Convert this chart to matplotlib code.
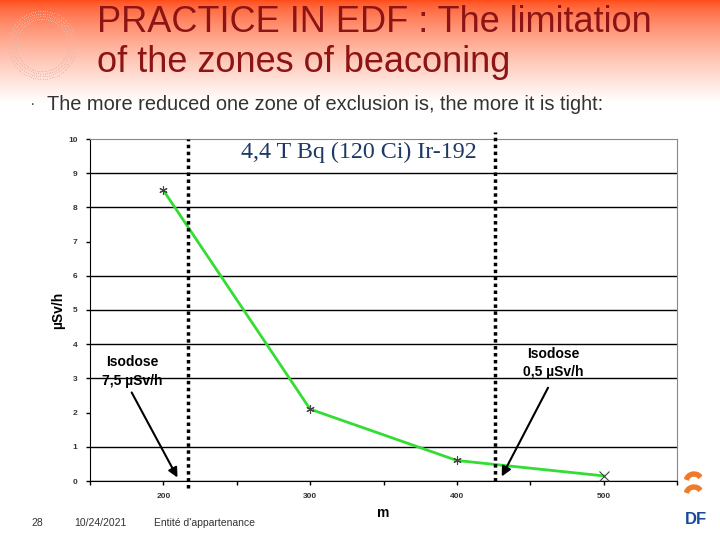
import numpy as np
import matplotlib
matplotlib.use("Agg")
import matplotlib.pyplot as plt
from matplotlib.patches import Wedge

# data
distance = [200, 300, 400, 500]
dose = [8.5, 2.1, 0.6, 0.15]
limit_75 = 217   # m, isodose 7.5 uSv/h
limit_05 = 426   # m, isodose 0.5 uSv/h
grid_levels = [0, 1, 3, 4, 5, 6, 8, 9]

plt.rcParams["font.family"] = ["Liberation Sans", "DejaVu Sans"]

fig = plt.figure(figsize=(7.2, 5.4), dpi=100)

# slide background: red band fading to white at the top
bg = fig.add_axes([0, 0, 1, 1], zorder=-10)
bg.set_axis_off()
h = np.linspace(0, 1, 540)
fade = np.clip(h / 0.19, 0, 1) ** 0.7
img = np.ones((540, 720, 3))
img[:, :, 1] = 0.3 + 0.7 * fade[:, None]
img[:, :, 2] = 0.1 + 0.9 * fade[:, None]
bg.imshow(img, extent=[0, 720, 540, 0], aspect="auto")
bg.set_xlim(0, 720)
bg.set_ylim(540, 0)
# dotted ring decoration
for r in np.linspace(26, 34, 4):
    ang = np.linspace(0, 2 * np.pi, 90)
    bg.scatter(42 + r * np.cos(ang), 45 + r * np.sin(ang), s=0.6, color="#e8b8a8", lw=0)
# logo
bg.add_patch(Wedge((694, 482), 10, 200, 320, width=4, color="#f07a2a"))
bg.add_patch(Wedge((694, 495), 10, 200, 320, width=4, color="#f07a2a"))
bg.text(696, 520, "DF", color="#1a4b9b", fontsize=12, fontweight="bold", ha="center", va="center")

fig.text(97 / 720, 1 - 23 / 540, "PRACTICE IN EDF : The limitation", color="#8c1414",
         fontsize=26, ha="left", va="center")
fig.text(97 / 720, 1 - 63 / 540, "of the zones of beaconing", color="#8c1414",
         fontsize=26, ha="left", va="center")
fig.text(30 / 720, 1 - 104 / 540, "\u00b7", color="#555555", fontsize=12, ha="left", va="center")
fig.text(47 / 720, 1 - 104 / 540, "The more reduced one zone of exclusion is, the more it is tight:",
         color="#333333", fontsize=14.4, ha="left", va="center")

fig.text(37 / 720, 1 - 523 / 540, "28", fontsize=7.5, color="#333333", ha="center", va="center")
fig.text(100 / 720, 1 - 523 / 540, "10/24/2021", fontsize=7.5, color="#333333", ha="center", va="center")
fig.text(204 / 720, 1 - 523 / 540, "Entité d'appartenance", fontsize=7.5, color="#333333",
         ha="center", va="center")

ax = fig.add_axes([90 / 720, 1 - 481 / 540, 587 / 720, 342 / 540])
ax.set_facecolor("white")
ax.set_xlim(150, 550)
ax.set_ylim(0, 10)
for g in grid_levels:
    ax.axhline(g, color="black", lw=1, zorder=1)
ax.spines["top"].set_color("#888888")
ax.spines["right"].set_color("#888888")
ax.spines["left"].set_color("black")
ax.spines["bottom"].set_color("black")

ax.set_xticks(np.arange(150, 551, 50))
ax.set_xticklabels(["" if v % 100 else str(v) for v in range(150, 551, 50)])
ax.set_yticks(range(0, 11))
ax.tick_params(labelsize=6, length=3, width=1, pad=6, labelcolor="#333333")
for lab in ax.get_xticklabels() + ax.get_yticklabels():
    lab.set_fontweight("bold")

ax.plot(distance, dose, color="#33dd33", lw=2, zorder=3)
ax.plot(distance[:3], dose[:3], ls="none", marker=(6, 2, 0), ms=6, mew=0.8, color="#444444", zorder=4)
ax.plot(distance[3:], dose[3:], ls="none", marker="x", ms=7, mew=0.8, color="#444444", zorder=4)

trans = ax.get_xaxis_transform()
ax.plot([limit_75, limit_75], [-0.02, 1.0], transform=trans, color="black", lw=2.5,
        ls=(0, (1, 1)), clip_on=False, zorder=5)
ax.plot([limit_05, limit_05], [0.0, 1.02], transform=trans, color="black", lw=2.5,
        ls=(0, (1, 1)), clip_on=False, zorder=5)

ax.text(333.5, 9.6, "4,4 T Bq (120 Ci) Ir-192", family="Liberation Serif", fontsize=17.3,
        color="#1f3864", ha="center", va="center")
ax.text(179, 3.2, "Isodose\n7,5 \u00b5Sv/h", fontsize=10, fontweight="bold", ha="center",
        va="center", linespacing=1.45)
ax.text(465.5, 3.45, "Isodose\n0,5 \u00b5Sv/h", fontsize=10, fontweight="bold", ha="center",
        va="center", linespacing=1.45)
ax.annotate("", xy=(210.5, 0.03), xytext=(177.5, 2.66),
            arrowprops=dict(arrowstyle="-|>", color="black", lw=1.5, mutation_scale=14))
ax.annotate("", xy=(429.7, 0.06), xytext=(463, 2.8),
            arrowprops=dict(arrowstyle="-|>", color="black", lw=1.5, mutation_scale=14))

ax.set_ylabel("\u00b5Sv/h", fontsize=10, fontweight="bold", labelpad=2)
ax.set_xlabel("m", fontsize=10, fontweight="bold", labelpad=4)

fig.savefig("out.png", dpi=100)
